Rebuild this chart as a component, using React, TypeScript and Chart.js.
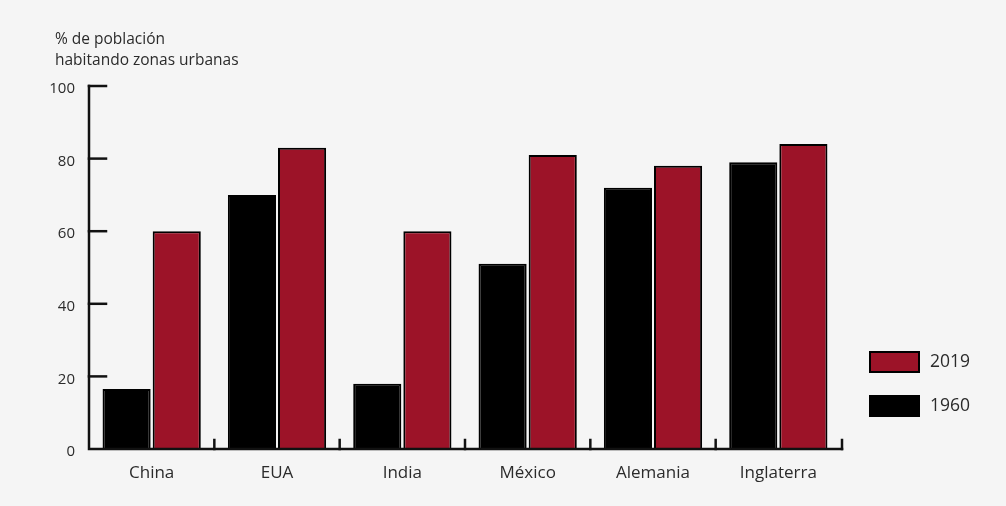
import React, { useEffect, useRef } from "react";
import { Chart, registerables } from "chart.js";
Chart.register(...registerables);

const categories = ["China", "EUA", "India", "México", "Alemania", "Inglaterra"];
const values1960 = [16.5, 70, 18, 51, 72, 79];
const values2019 = [60, 83, 60, 81, 78, 84];
const yTickValues = [0, 20, 40, 60, 80, 100];
const titleLines = ["% de población", "habitando zonas urbanas"];
const seriesLabels = ["1960", "2019"];

const RED = "#9c1328";
const BLACK = "#000000";
const TEXT = "#2b2b2b";
const FONT = "'Open Sans', Lato, sans-serif";

const decorPlugin = {
  id: "decor",
  afterDatasetsDraw(chart: any) {
    const { ctx, chartArea, scales } = chart;
    const x = scales.x;
    const y = scales.y;
    ctx.save();
    ctx.strokeStyle = "#111";
    ctx.lineWidth = 2.5;
    ctx.lineCap = "square";
    const top = y.getPixelForValue(100);
    const bottom = y.getPixelForValue(0);
    ctx.beginPath();
    ctx.moveTo(chartArea.left, top);
    ctx.lineTo(chartArea.left, bottom);
    ctx.lineTo(chartArea.right + 1, bottom);
    ctx.stroke();
    yTickValues.forEach((v) => {
      if (v === 0) return;
      const py = y.getPixelForValue(v);
      ctx.beginPath();
      ctx.moveTo(chartArea.left, py);
      ctx.lineTo(chartArea.left + 17, py);
      ctx.stroke();
    });
    for (let i = 1; i <= categories.length; i++) {
      let px;
      if (i < categories.length) {
        px = (x.getPixelForValue(i - 1) + x.getPixelForValue(i)) / 2;
      } else {
        px = chartArea.right + 1;
      }
      ctx.beginPath();
      ctx.moveTo(px, bottom);
      ctx.lineTo(px, bottom - 9);
      ctx.stroke();
    }
    ctx.restore();
  },
  afterDraw(chart: any) {
    const { ctx } = chart;
    ctx.save();
    ctx.fillStyle = TEXT;
    ctx.font = `15.5px ${FONT}`;
    ctx.textBaseline = "middle";
    ctx.textAlign = "left";
    ctx.fillText(titleLines[0], 55, 40);
    ctx.fillText(titleLines[1], 55, 61);
    const ds = chart.data.datasets;
    const entries = [ds[1], ds[0]];
    entries.forEach((d: any, i: number) => {
      const yy = 362 + i * 44;
      ctx.fillStyle = d.backgroundColor;
      ctx.strokeStyle = "#000";
      ctx.lineWidth = 2;
      ctx.fillRect(870, yy - 10, 49, 20);
      ctx.strokeRect(870, yy - 10, 49, 20);
      ctx.fillStyle = TEXT;
      ctx.font = `17.5px ${FONT}`;
      ctx.fillText(d.label, 930, yy);
    });
    ctx.restore();
  },
};

const bgPlugin = {
  id: "bg",
  beforeDraw(chart: any) {
    const { ctx, width, height } = chart;
    ctx.save();
    ctx.fillStyle = "#f5f5f5";
    ctx.fillRect(0, 0, width, height);
    ctx.restore();
  },
};

export default function App() {
  const ref = useRef<HTMLCanvasElement>(null);
  useEffect(() => {
    document.body.style.margin = "0";
    const chart = new Chart(ref.current!, {
      type: "bar",
      data: {
        labels: categories,
        datasets: [
          {
            label: seriesLabels[0],
            data: values1960,
            backgroundColor: BLACK,
            borderColor: "#000",
            borderWidth: 2,
            categoryPercentage: 0.8,
            barPercentage: 0.96,
          },
          {
            label: seriesLabels[1],
            data: values2019,
            backgroundColor: RED,
            borderColor: "#000",
            borderWidth: 2,
            categoryPercentage: 0.8,
            barPercentage: 0.96,
          },
        ],
      },
      options: {
        animation: false,
        responsive: false,
        maintainAspectRatio: false,
        layout: { padding: { left: 0, right: 165, top: 86, bottom: 0 } },
        plugins: { legend: { display: false }, tooltip: { enabled: false } },
        scales: {
          x: {
            grid: { display: false },
            border: { display: false },
            ticks: { color: TEXT, font: { family: FONT, size: 17 }, padding: 6 },
            afterFit: (s: any) => {
              s.height = 57;
            },
          },
          y: {
            min: 0,
            max: 100,
            grid: { display: false },
            border: { display: false },
            ticks: {
              stepSize: 20,
              color: TEXT,
              font: { family: FONT, size: 15 },
              padding: 6,
              labelOffset: 3,
            },
            afterFit: (s: any) => {
              s.width = 89;
            },
          },
        },
      },
      plugins: [bgPlugin, decorPlugin],
    });
    return () => chart.destroy();
  }, []);
  return (
    <div style={{ width: 1006, height: 506, background: "#f5f5f5" }}>
      <canvas ref={ref} width={1006} height={506} />
    </div>
  );
}
